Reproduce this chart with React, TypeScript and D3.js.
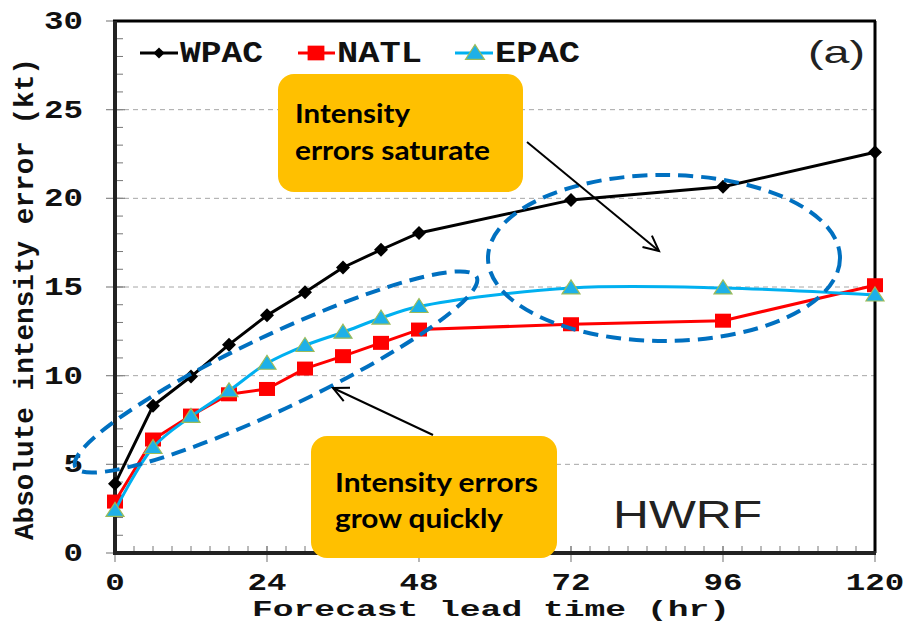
import React from 'react';
import * as d3 from 'd3';

const hours = [0, 6, 12, 18, 24, 30, 36, 42, 48, 72, 96, 120];
const wpac = [3.9, 8.3, 9.95, 11.75, 13.4, 14.7, 16.1, 17.1, 18.05, 19.9, 20.65, 22.6];
const natl = [2.9, 6.4, 7.75, 8.95, 9.25, 10.4, 11.1, 11.85, 12.6, 12.9, 13.1, 15.1];
const epac = [2.4, 5.95, 7.7, 9.15, 10.7, 11.7, 12.45, 13.25, 13.9, 14.95, 14.95, 14.55];
const seriesNames = ['WPAC', 'NATL', 'EPAC'];
const xTicks = [0, 24, 48, 72, 96, 120];
const yTicks = [0, 5, 10, 15, 20, 25, 30];
const gridValues = [5, 10, 15, 20, 25];

const W = 908;
const H = 623;
const MONO = "'Liberation Mono', 'Courier New', monospace";
const SANS = "'Liberation Sans', Arial, sans-serif";
const CAL = "Lato, 'Open Sans', sans-serif";

export default function App() {
  const x = d3.scaleLinear().domain([0, 120]).range([115, 875]);
  const y = d3.scaleLinear().domain([0, 30]).range([553, 21]);

  const minorX = d3.range(0, 121, 3);
  const minorY = d3.range(0, 31, 1);

  const lineLinear = d3
    .line<number>()
    .x((_, i) => x(hours[i]))
    .y((d) => y(d));
  const lineSmooth = d3
    .line<number>()
    .x((_, i) => x(hours[i]))
    .y((d) => y(d))
    .curve(d3.curveCatmullRom.alpha(0.5));

  const series = [
    { name: seriesNames[0], values: wpac, color: '#000000', marker: 'diamond', smooth: false },
    { name: seriesNames[1], values: natl, color: '#FF0000', marker: 'square', smooth: false },
    { name: seriesNames[2], values: epac, color: '#00B0F0', marker: 'triangle', smooth: true },
  ];

  const marker = (kind: string, cx: number, cy: number, k: number, s = 1) => {
    if (kind === 'diamond') {
      const r = 7 * s;
      return (
        <path key={k} d={`M${cx},${cy - r}L${cx + r},${cy}L${cx},${cy + r}L${cx - r},${cy}Z`} fill="#000" />
      );
    }
    if (kind === 'square') {
      const w = 16 * s;
      const h = 14 * s;
      return <rect key={k} x={cx - w / 2} y={cy - h / 2} width={w} height={h} fill="#FF0000" />;
    }
    const hw = 9 * s;
    return (
      <path
        key={k}
        d={`M${cx},${cy - 8 * s}L${cx + hw},${cy + 6 * s}L${cx - hw},${cy + 6 * s}Z`}
        fill="#1EB0E8"
        stroke="#9BBB59"
        strokeWidth={1.2}
      />
    );
  };

  const legendItems = [
    { lx0: 140, lx1: 178, mx: 159, tx: 180, tl: 83 },
    { lx0: 298, lx1: 335, mx: 316, tx: 337, tl: 85 },
    { lx0: 455, lx1: 493, mx: 475, tx: 495, tl: 85 },
  ];

  const arrow = (x1: number, y1: number, x2: number, y2: number) => {
    const ang = Math.atan2(y2 - y1, x2 - x1);
    const L = 17;
    const a1 = ang + Math.PI - 0.45;
    const a2 = ang + Math.PI + 0.45;
    return (
      <g stroke="#000" strokeWidth={2} fill="none">
        <line x1={x1} y1={y1} x2={x2} y2={y2} />
        <path
          d={`M${x2 + L * Math.cos(a1)},${y2 + L * Math.sin(a1)}L${x2},${y2}L${x2 + L * Math.cos(a2)},${y2 + L * Math.sin(a2)}`}
        />
      </g>
    );
  };

  return (
    <svg
      width={W}
      height={H}
      viewBox={`0 0 ${W} ${H}`}
      style={{ position: 'absolute', left: 0, top: 0, background: '#fff' }}
    >
      <rect x={0} y={0} width={W} height={H} fill="#fff" />

      {/* gridlines */}
      {gridValues.map((v) => (
        <line
          key={`g${v}`}
          x1={x(0)}
          x2={x(120)}
          y1={y(v)}
          y2={y(v)}
          stroke="#A6A6A6"
          strokeWidth={1}
          strokeDasharray="5,4"
        />
      ))}

      {/* minor ticks */}
      {minorX.map((h) => (
        <line key={`mx${h}`} x1={x(h)} x2={x(h)} y1={y(0)} y2={y(0) - 7} stroke="#777" strokeWidth={1} />
      ))}
      {minorY.map((v) => (
        <line key={`my${v}`} x1={x(0)} x2={x(0) + 8} y1={y(v)} y2={y(v)} stroke="#777" strokeWidth={1} />
      ))}
      {/* major ticks */}
      {xTicks.map((h) => (
        <line key={`Mx${h}`} x1={x(h)} x2={x(h)} y1={y(0) - 7} y2={y(0) + 9} stroke="#888" strokeWidth={1.2} />
      ))}
      {yTicks.map((v) => (
        <line key={`My${v}`} x1={x(0) - 9} x2={x(0) + 10} y1={y(v)} y2={y(v)} stroke="#888" strokeWidth={1.2} />
      ))}

      {/* frame */}
      <line x1={x(0) - 2} x2={x(120) + 1} y1={y(30)} y2={y(30)} stroke="#000" strokeWidth={3} />
      <line x1={x(120)} x2={x(120)} y1={y(30)} y2={y(0)} stroke="#000" strokeWidth={3} />
      <line x1={x(0)} x2={x(0)} y1={y(30)} y2={y(0) + 2} stroke="#222" strokeWidth={4} />
      <line x1={x(0) - 2} x2={x(120) + 1} y1={y(0)} y2={y(0)} stroke="#222" strokeWidth={4} />

      {/* tick labels */}
      {yTicks.map((v) => (
        <text
          key={`yl${v}`}
          x={83}
          y={y(v) - 1}
          dy="0.35em"
          textAnchor="end"
          fontFamily={MONO}
          fontWeight="bold"
          fontSize={26}
          fill="#111"
          textLength={String(v).length * 19.5}
          lengthAdjust="spacingAndGlyphs"
        >
          {v}
        </text>
      ))}
      {xTicks.map((h) => (
        <text
          key={`xl${h}`}
          x={x(h)}
          y={590}
          textAnchor="middle"
          fontFamily={MONO}
          fontWeight="bold"
          fontSize={24}
          fill="#111"
          textLength={String(h).length * 19.5}
          lengthAdjust="spacingAndGlyphs"
        >
          {h}
        </text>
      ))}

      {/* axis titles */}
      <text
        x={252}
        y={616}
        fontFamily={MONO}
        fontWeight="bold"
        fontSize={22}
        fill="#111"
        textLength={478}
        lengthAdjust="spacingAndGlyphs"
      >
        Forecast lead time (hr)
      </text>
      <text
        transform="translate(33,540) rotate(-90)"
        x={0}
        y={0}
        fontFamily={MONO}
        fontWeight="bold"
        fontSize={27}
        fill="#111"
        textLength={482}
        lengthAdjust="spacingAndGlyphs"
      >
        Absolute intensity error (kt)
      </text>

      {/* series */}
      {series.map((s) => (
        <g key={s.name}>
          <path
            d={(s.smooth ? lineSmooth : lineLinear)(s.values) || ''}
            fill="none"
            stroke={s.color}
            strokeWidth={3}
            strokeLinejoin="round"
          />
          {s.values.map((v, i) => marker(s.marker, x(hours[i]), y(v), i))}
        </g>
      ))}

      {/* legend */}
      {series.map((s, i) => {
        const it = legendItems[i];
        return (
          <g key={`lg${s.name}`}>
            <line x1={it.lx0} x2={it.lx1} y1={53} y2={53} stroke={s.color} strokeWidth={3} />
            {marker(s.marker, it.mx, 53, 100 + i, s.marker === 'diamond' ? 0.8 : 1.05)}
            <text
              x={it.tx}
              y={62}
              fontFamily={MONO}
              fontWeight="bold"
              fontSize={29}
              fill="#111"
              textLength={it.tl}
              lengthAdjust="spacingAndGlyphs"
            >
              {s.name}
            </text>
          </g>
        );
      })}

      {/* panel labels */}
      <text
        x={808}
        y={63}
        fontFamily={SANS}
        fontSize={32}
        fill="#222"
        textLength={57}
        lengthAdjust="spacingAndGlyphs"
      >
        (a)
      </text>
      <text
        x={613}
        y={528}
        fontFamily={SANS}
        fontSize={39}
        fill="#222"
        textLength={149}
        lengthAdjust="spacingAndGlyphs"
      >
        HWRF
      </text>

      {/* annotation ellipses */}
      <ellipse
        cx={664}
        cy={258}
        rx={176}
        ry={83}
        fill="none"
        stroke="#0070C0"
        strokeWidth={4}
        strokeDasharray="15,8"
      />
      <ellipse
        cx={0}
        cy={0}
        rx={222}
        ry={37}
        transform="translate(276,372) rotate(-25.3)"
        fill="none"
        stroke="#0070C0"
        strokeWidth={4}
        strokeDasharray="15,8"
      />

      {/* annotation boxes */}
      <rect x={278} y={74} width={245} height={118} rx={16} fill="#FFC000" />
      <text fontFamily={CAL} fontWeight="bold" fontSize={27} fill="#000">
        <tspan x={295} y={123} textLength={115} lengthAdjust="spacingAndGlyphs">
          Intensity
        </tspan>
      </text>
      <text fontFamily={CAL} fontWeight="bold" fontSize={27} fill="#000">
        <tspan x={295} y={160} textLength={195} lengthAdjust="spacingAndGlyphs">
          errors saturate
        </tspan>
      </text>

      <rect x={311} y={436} width={246} height={122} rx={16} fill="#FFC000" />
      <text fontFamily={CAL} fontWeight="bold" fontSize={27} fill="#000">
        <tspan x={335} y={492} textLength={203} lengthAdjust="spacingAndGlyphs">
          Intensity errors
        </tspan>
      </text>
      <text fontFamily={CAL} fontWeight="bold" fontSize={27} fill="#000">
        <tspan x={335} y={528} textLength={168} lengthAdjust="spacingAndGlyphs">
          grow quickly
        </tspan>
      </text>

      {/* arrows */}
      {arrow(527, 142, 659, 251)}
      {arrow(433, 435, 333, 388)}
    </svg>
  );
}
